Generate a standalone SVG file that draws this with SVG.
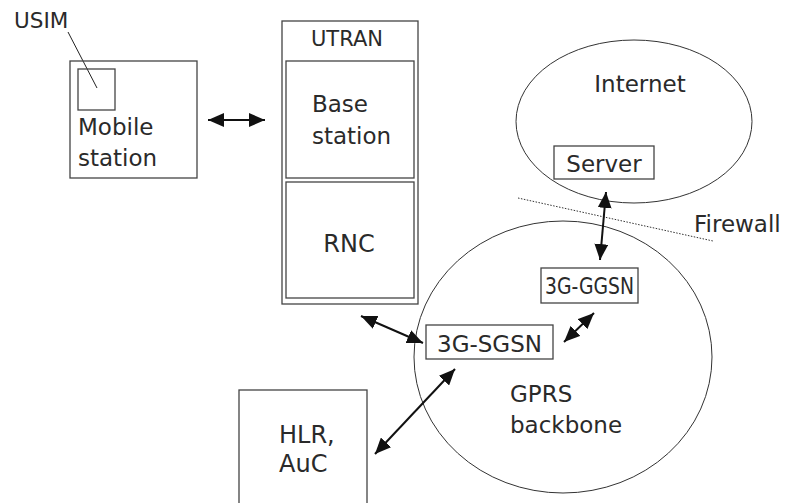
<svg xmlns="http://www.w3.org/2000/svg" width="788" height="503" viewBox="0 0 788 503">
<defs>
<style>
.box{fill:none;stroke:#444;stroke-width:1.3}
.ell{fill:none;stroke:#333;stroke-width:1}
.t{font-family:"DejaVu Sans","Liberation Sans",sans-serif;font-size:23px;fill:#2a2a2a}
.arr{stroke:#111;stroke-width:2;fill:none;marker-start:url(#ah);marker-end:url(#ah)}
</style>
<marker id="ah" markerUnits="userSpaceOnUse" viewBox="0 0 16 14" refX="16" refY="7" markerWidth="16" markerHeight="14" orient="auto-start-reverse">
<path d="M0,0 L16,7 L0,14 z" fill="#111"/>
</marker>
</defs>
<rect width="788" height="503" fill="#fff"/>

<g id="usim">
<text class="t" x="14" y="28" style="font-size:21.5px">USIM</text>
<line x1="68" y1="32" x2="97" y2="88" stroke="#222" stroke-width="1"/>
</g>

<g id="mobile-station">
<rect class="box" x="70" y="61" width="127" height="117"/>
<rect class="box" x="78" y="69" width="37" height="41"/>
<text class="t" x="78" y="135">Mobile</text>
<text class="t" x="78" y="166">station</text>
</g>

<g id="utran">
<rect class="box" x="282" y="21" width="136" height="283"/>
<text class="t" x="347" y="46" text-anchor="middle" style="font-size:21px">UTRAN</text>
</g>
<g id="base-station">
<rect class="box" x="286" y="61" width="128" height="117"/>
<text class="t" x="312" y="112">Base</text>
<text class="t" x="312" y="144">station</text>
</g>
<g id="rnc">
<rect class="box" x="286" y="182" width="128" height="116"/>
<text class="t" x="349" y="252" text-anchor="middle" style="font-size:24px">RNC</text>
</g>

<g id="internet">
<ellipse class="ell" cx="634" cy="121.5" rx="118" ry="81.5"/>
<text class="t" x="640" y="92" text-anchor="middle">Internet</text>
</g>
<g id="server">
<rect class="box" x="554" y="146" width="100" height="33"/>
<text class="t" x="604" y="172" text-anchor="middle">Server</text>
</g>

<g id="firewall">
<line x1="518" y1="198" x2="713" y2="241" stroke="#333" stroke-width="1" stroke-dasharray="1.5,1.5"/>
<text class="t" x="694" y="232">Firewall</text>
</g>

<g id="gprs-backbone">
<ellipse class="ell" cx="563" cy="357" rx="149" ry="136"/>
<text class="t" x="510" y="402">GPRS</text>
<text class="t" x="510" y="433">backbone</text>
</g>
<g id="ggsn">
<rect class="box" x="541" y="268" width="97" height="35"/>
<text class="t" x="545" y="294" textLength="89" lengthAdjust="spacingAndGlyphs">3G-GGSN</text>
</g>
<g id="sgsn">
<rect class="box" x="426" y="325" width="127" height="34"/>
<text class="t" x="489.5" y="352" text-anchor="middle">3G-SGSN</text>
</g>

<g id="hlr">
<rect class="box" x="239" y="390" width="128" height="120"/>
<text class="t" x="279" y="443" style="font-size:24px">HLR,</text>
<text class="t" x="279" y="472" style="font-size:24px">AuC</text>
</g>

<g id="connectors">
<line class="arr" x1="208" y1="120" x2="265" y2="120"/>
<line class="arr" x1="606" y1="192" x2="600" y2="260"/>
<line class="arr" x1="361" y1="316" x2="423" y2="343"/>
<line class="arr" x1="564" y1="342" x2="594" y2="313"/>
<line class="arr" x1="455" y1="369" x2="375" y2="454"/>
</g>
</svg>
